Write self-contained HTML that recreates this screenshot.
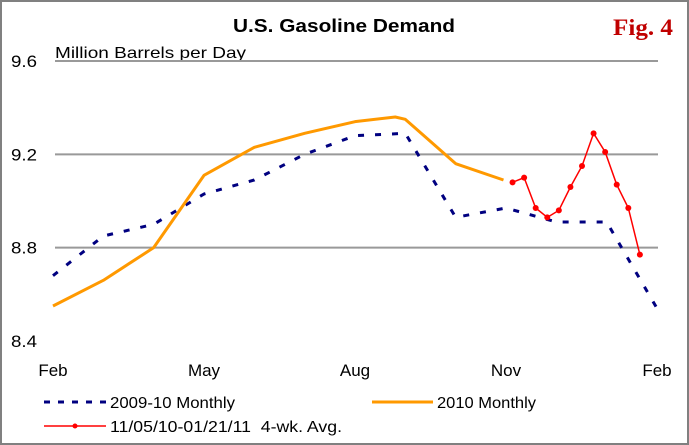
<!DOCTYPE html>
<html><head><meta charset="utf-8"><style>
html,body{margin:0;padding:0;background:#fff}
svg{display:block;font-family:"Liberation Sans",Arial,sans-serif}
</style></head><body>
<svg width="689" height="445" viewBox="0 0 689 445">
<rect x="1" y="1" width="687" height="443" fill="#fff" stroke="#808080" stroke-width="2"/>
<text x="233" y="32" font-size="18" font-weight="bold" textLength="222" lengthAdjust="spacingAndGlyphs">U.S. Gasoline Demand</text>
<text x="613" y="35" font-family="Liberation Serif,serif" font-size="23" font-weight="bold" fill="#c00000" textLength="60" lengthAdjust="spacingAndGlyphs">Fig. 4</text>
<text x="55" y="58" font-size="16" textLength="191" lengthAdjust="spacingAndGlyphs">Million Barrels per Day</text>
<g id="grid"></g><g id="series"></g><g id="axes"></g>
<g>
<g>
<line x1="44" y1="402" x2="106" y2="402" stroke="#000080" stroke-width="3" stroke-dasharray="6,8"/>
<text x="110" y="408" font-size="16" textLength="125" lengthAdjust="spacingAndGlyphs">2009-10 Monthly</text></g>
<g>
<line x1="372" y1="402" x2="433" y2="402" stroke="#ff9900" stroke-width="3"/>
<text x="437" y="408" font-size="16" textLength="99" lengthAdjust="spacingAndGlyphs">2010 Monthly</text></g>
<g>
<line x1="44" y1="426" x2="106" y2="426" stroke="#ff0000" stroke-width="1.5"/>
<circle cx="75" cy="426" r="2.5" fill="#ff0000"/>
<text x="110" y="432" font-size="16" textLength="232" lengthAdjust="spacingAndGlyphs" xml:space="preserve">11/05/10-01/21/11  4-wk. Avg.</text></g>
</g>
</svg>
<script>
const yTicks=[8.4,8.8,9.2,9.6];
const yTickLabels=["8.4","8.8","9.2","9.6"];
const xTickMonths=[0,3,6,9,12];
const xTickLabels=["Feb","May","Aug","Nov","Feb"];
const blueMonths=[0,1,2,3,4,5,6,7,8,9,10,11,12];
const blueValues=[8.68,8.85,8.90,9.03,9.09,9.20,9.28,9.29,8.93,8.97,8.91,8.91,8.54];
const orangeMonths=[0,1,2,3,4,5,6,6.8,7,8,8.95];
const orangeValues=[8.55,8.66,8.80,9.11,9.23,9.29,9.34,9.36,9.35,9.16,9.09];
const redMonths=[9.13,9.36,9.59,9.82,10.05,10.28,10.51,10.74,10.97,11.2,11.43,11.66];
const redValues=[9.08,9.10,8.97,8.93,8.96,9.06,9.15,9.29,9.21,9.07,8.97,8.77];
const NS="http://www.w3.org/2000/svg";
function xs(m){return 53+m*(657-53)/12;}
function ys(v){return 61+(9.6-v)*(341-61)/1.2;}
function mk(tag,attrs,parent){const e=document.createElementNS(NS,tag);for(const k in attrs)e.setAttribute(k,attrs[k]);parent.appendChild(e);return e;}
const grid=document.getElementById('grid'),axes=document.getElementById('axes'),series=document.getElementById('series');
yTicks.forEach((t,i)=>{
 if(i>0){const l=mk('line',{x1:55,x2:658,y1:ys(t),y2:ys(t),stroke:'#999',"stroke-width":2},grid);
 
 }
 const tx=mk('text',{x:37,y:ys(t)+6,"text-anchor":"end","font-size":17,textLength:26,lengthAdjust:"spacingAndGlyphs"},axes);tx.textContent=yTickLabels[i];
 
 
});
xTickMonths.forEach((m,i)=>{
 const tx=mk('text',{x:xs(m),y:376,"text-anchor":"middle","font-size":17},axes);tx.textContent=xTickLabels[i];
 
 
});
function pts(ms,vs){return ms.map((m,i)=>xs(m)+','+ys(vs[i])).join(' ');}
const b=mk('polyline',{points:pts(blueMonths,blueValues),fill:'none',stroke:'#000080',"stroke-width":3,"stroke-dasharray":"6,11"},series);


const o=mk('polyline',{points:pts(orangeMonths,orangeValues),fill:'none',stroke:'#ff9900',"stroke-width":3,"stroke-linejoin":"round"},series);


const r=mk('polyline',{points:pts(redMonths,redValues),fill:'none',stroke:'#ff0000',"stroke-width":1.5},series);


redMonths.forEach((m,i)=>{
 const c=mk('circle',{cx:xs(m),cy:ys(redValues[i]),r:3,fill:'#ff0000'},series);
 
 
});
</script>
</body></html>
